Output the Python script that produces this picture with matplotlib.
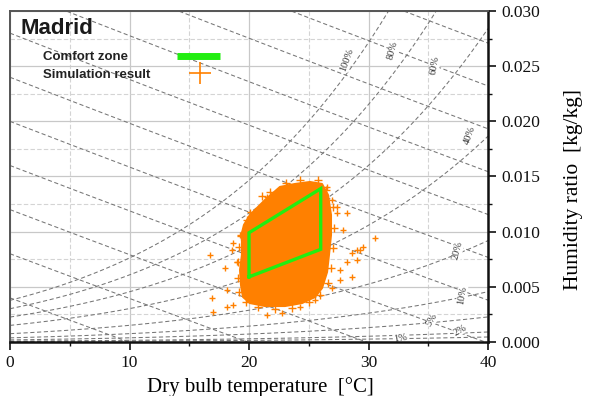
import numpy as np
import matplotlib
matplotlib.use("Agg")
import matplotlib.pyplot as plt
from matplotlib.lines import Line2D

# comfort zone corners (dry bulb degC, humidity ratio kg/kg)
comfort_t = [20.0, 20.0, 26.0, 26.0, 20.0]
comfort_w = [0.0059, 0.0099, 0.0139, 0.0084, 0.0059]

# outline of the dense part of the simulation cloud
cloud_t = [19.41, 19.58, 20.08, 21.34, 22.59, 23.85, 25.10, 26.11, 26.61, 26.86,
           26.86, 26.69, 26.53, 26.11, 25.52, 24.44, 23.01, 21.34, 20.08, 19.50,
           19.33, 19.25, 19.41]
cloud_w = [0.00988, 0.01061, 0.01151, 0.01287, 0.01405, 0.01432, 0.01450, 0.01432,
           0.01332, 0.01151, 0.00970, 0.00789, 0.00634, 0.00489, 0.00408, 0.00353,
           0.00326, 0.00326, 0.00353, 0.00408, 0.00517, 0.00653, 0.00789]

# simulation points on the ragged edge of the cloud
edge_t = [21.09, 21.76, 23.10, 24.27, 25.77, 26.44, 27.03, 27.11, 27.03, 26.86,
          26.61, 25.94, 25.02, 23.60, 22.18, 20.75, 19.75, 19.16, 19.08, 19.08,
          19.16, 19.33, 19.83]
edge_w = [0.01323, 0.01360, 0.01441, 0.01468, 0.01468, 0.01378, 0.01224, 0.01033,
          0.00852, 0.00671, 0.00535, 0.00426, 0.00363, 0.00308, 0.00299, 0.00317,
          0.00363, 0.00453, 0.00580, 0.00725, 0.00861, 0.00961, 0.01106]

# scattered simulation points around the cloud
sim_t = [20.08, 19.25, 18.66, 18.58, 17.99, 19.00, 16.74, 16.99, 18.66, 21.51,
         22.76, 24.27, 25.52, 26.95, 27.62, 28.20, 29.04, 29.54, 30.54, 27.87,
         27.36, 26.95, 26.53, 21.51, 20.08, 28.62, 29.29, 18.20, 16.90, 18.20,
         29.00, 28.60, 27.60, 28.20, 27.40]
sim_w = [0.01178, 0.00970, 0.00897, 0.00834, 0.00671, 0.00725, 0.00789, 0.00272,
         0.00335, 0.00245, 0.00263, 0.00317, 0.00381, 0.00489, 0.00653, 0.00725,
         0.00834, 0.00861, 0.00943, 0.01015, 0.01169, 0.01287, 0.01405, 0.01314,
         0.01106, 0.00807, 0.00834, 0.00470, 0.00400, 0.00320, 0.00740, 0.00590,
         0.00560, 0.01170, 0.01220]

# psychrometric reference lines
rh_levels = [1, 2, 5, 10, 20, 40, 60, 80, 100]             # %
h_levels = [10, 20, 30, 40, 50, 60, 70, 80, 90, 100, 110]  # kJ/kg

# where the rh labels sit
rh_lab_t = [32.64, 37.66, 35.31, 37.82, 37.49, 38.49, 35.56, 32.05, 28.20]
rh_lab_w = [0.00036, 0.00109, 0.00199, 0.00426, 0.00834, 0.01876, 0.02511, 0.02647, 0.02556]
rh_lab_rot = [10, 30, 60, 80, 75, 70, 80, 75, 70]

P_ATM = 101.325
orange = "#ff8000"
green = "#22ee11"


def p_sat(t):
    return 0.61094 * np.exp(17.625 * t / (t + 243.04))


def w_rh(t, rh):
    ps = rh / 100.0 * p_sat(t)
    return 0.622 * ps / (P_ATM - ps)


def w_h(t, h):
    return (h - 1.006 * t) / (2501 + 1.86 * t)


fig = plt.figure(figsize=(5.95, 3.96), dpi=100)
ax = fig.add_axes([0.0168, 0.1364, 0.8034, 0.8359])
ax.set_xlim(0, 40)
ax.set_ylim(0, 0.030)

# grid
ax.set_xticks([0, 10, 20, 30, 40])
ax.set_xticks([5, 15, 25, 35], minor=True)
ax.set_yticks(np.arange(0, 0.0301, 0.005))
ax.set_yticks(np.arange(0.0025, 0.030, 0.005), minor=True)
ax.grid(which="major", color="#c8c8c8", lw=0.9, ls="-")
ax.grid(which="minor", color="#d4d4d4", lw=0.8, ls=(0, (4, 2)))
ax.set_axisbelow(True)

tt = np.linspace(0, 40, 300)
dash = (0, (4, 2.5))
for rh in rh_levels:
    ax.plot(tt, w_rh(tt, rh), color="#767676", lw=0.75, ls=dash, zorder=1)
for h in h_levels:
    ax.plot(tt, w_h(tt, h), color="#767676", lw=0.75, ls=dash, zorder=1)

# labels on the rh curves
for rh, t0, w0, rot in zip(rh_levels, rh_lab_t, rh_lab_w, rh_lab_rot):
    ax.text(t0, w0, f"{rh}%", rotation=rot, rotation_mode="anchor",
            ha="center", va="center", fontsize=7.5, family="Liberation Serif",
            color="#333333", zorder=2,
            bbox=dict(facecolor="white", edgecolor="none", pad=0.3))

# simulation cloud
ax.fill(cloud_t, cloud_w, color=orange, lw=0, zorder=3)
ax.plot(cloud_t + cloud_t[:1], cloud_w + cloud_w[:1], color=orange, lw=1.5, zorder=3)
ax.plot(edge_t, edge_w, ls="none", marker="+", ms=6, mew=1.0, color=orange, zorder=3)
ax.plot(sim_t, sim_w, ls="none", marker="+", ms=5, mew=1.0, color=orange, zorder=3)

# comfort zone
ax.plot(comfort_t, comfort_w, color=green, lw=2.4, zorder=4, solid_joinstyle="miter")

# legend drawn by hand
ax.text(0.021, 0.946, "Madrid", transform=ax.transAxes, fontsize=16,
        fontweight="bold", family="Liberation Sans", color="#1a1a1a", va="center")
ax.text(0.069, 0.861, "Comfort zone", transform=ax.transAxes, fontsize=9.5,
        fontweight="bold", family="Liberation Sans", color="#222222", va="center")
ax.text(0.069, 0.808, "Simulation result", transform=ax.transAxes, fontsize=9.5,
        fontweight="bold", family="Liberation Sans", color="#222222", va="center")
ax.add_line(Line2D([0.349, 0.439], [0.864, 0.864], transform=ax.transAxes,
                   color=green, lw=5, solid_capstyle="butt", zorder=5))
ax.add_line(Line2D([0.397], [0.813], transform=ax.transAxes, ls="none",
                   marker="+", ms=16, mew=1.2, color=orange, zorder=5))

# axes styling
for side in ["left", "top"]:
    ax.spines[side].set_color("#555555")
    ax.spines[side].set_linewidth(1.4)
for side in ["right", "bottom"]:
    ax.spines[side].set_color("#111111")
    ax.spines[side].set_linewidth(1.8)

ax.yaxis.tick_right()
ax.tick_params(which="major", direction="out", length=6, width=1.2, colors="#111111",
               labelsize=12.5)
ax.tick_params(which="minor", direction="out", length=3, width=1.0, colors="#111111")
ax.tick_params(axis="y", which="both", left=False, right=True)
ax.set_yticklabels([f"{v:.3f}" for v in np.arange(0, 0.0301, 0.005)])
for lab in ax.get_xticklabels() + ax.get_yticklabels():
    lab.set_family("Liberation Serif")

ax.set_xlabel("Dry bulb temperature  [°C]", fontsize=15, family="Liberation Serif")
ax.xaxis.set_label_coords(0.523, -0.105)
ax.yaxis.set_label_position("right")
ax.set_ylabel("Humidity ratio  [kg/kg]", fontsize=15.5, family="Liberation Serif")
ax.yaxis.set_label_coords(1.158, 0.46)

fig.savefig("out.png", dpi=100)
